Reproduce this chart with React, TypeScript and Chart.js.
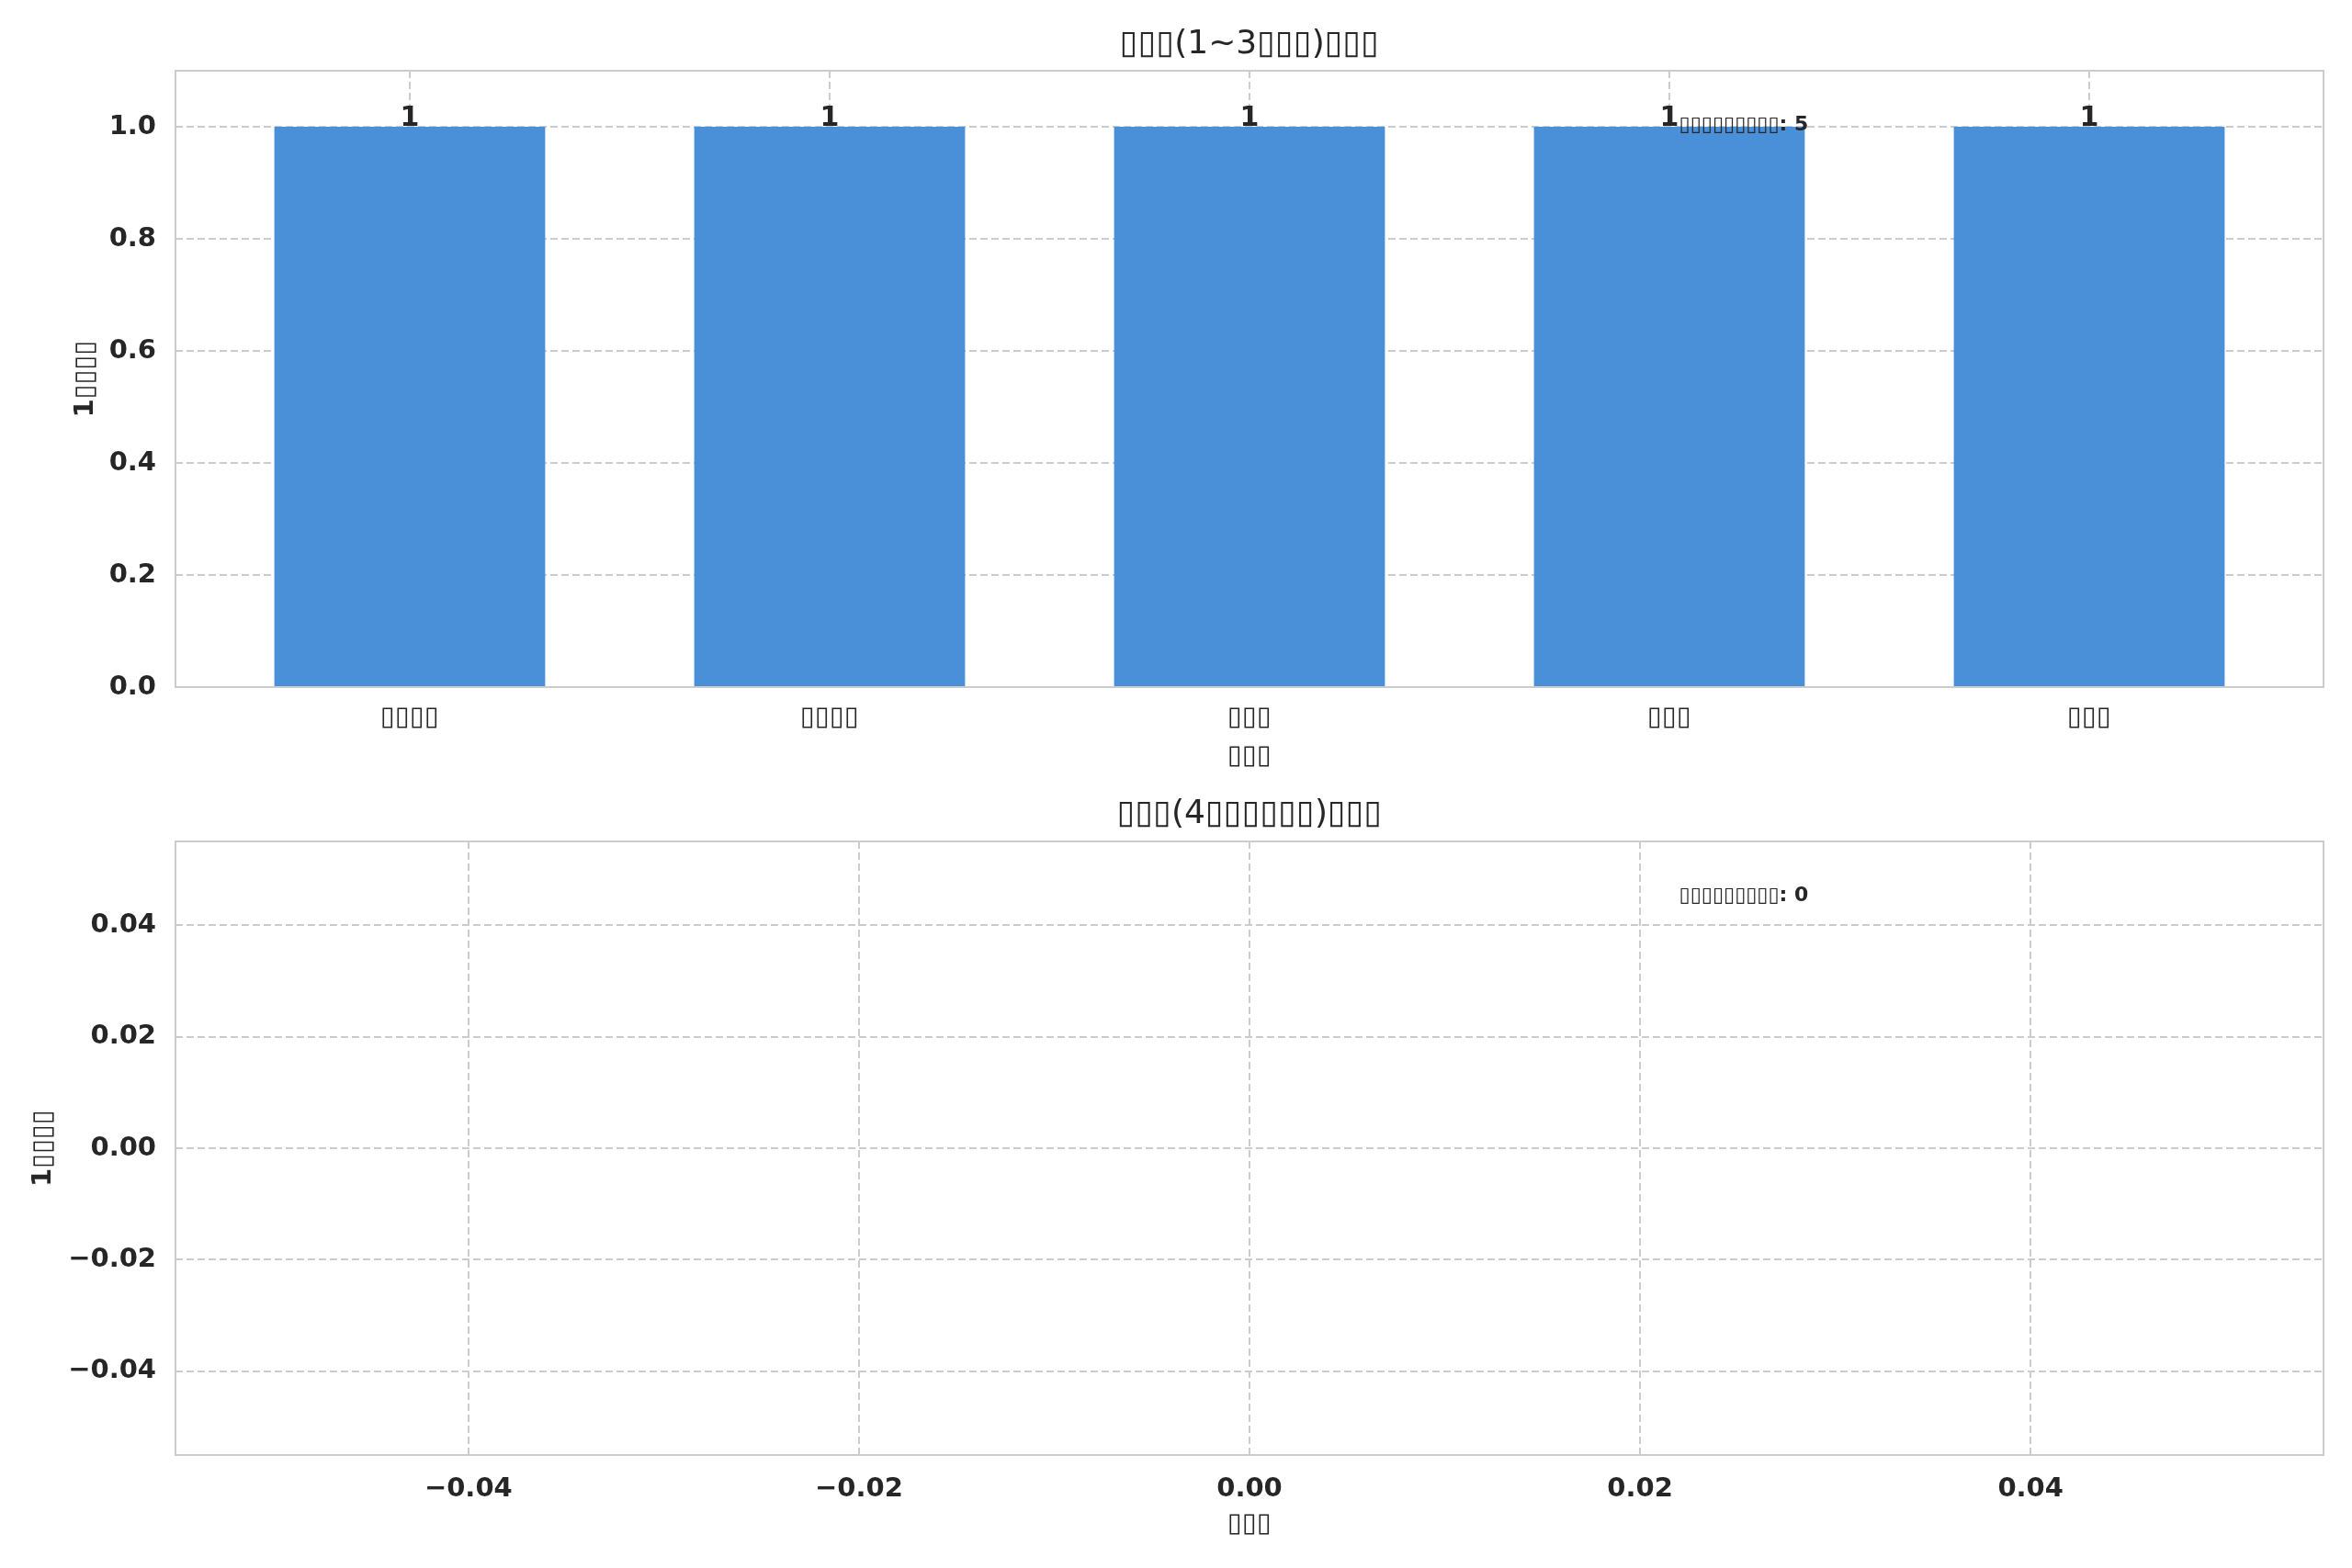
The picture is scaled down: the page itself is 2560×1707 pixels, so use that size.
import React, { useEffect, useRef } from "react";
import { Chart, registerables } from "chart.js";

Chart.register(...registerables);

Chart.defaults.font.family = "'DejaVu Sans', sans-serif";
Chart.defaults.color = "#262626";

// glyphs that were missing in the original render show up as boxes
const CATEGORIES = ["▯▯▯▯", "▯▯▯▯", "▯▯▯", "▯▯▯", "▯▯▯"];
const COUNTS = [1, 1, 1, 1, 1];
const TOP_Y_TICKS = [0, 0.2, 0.4, 0.6, 0.8, 1.0];
const BOTTOM_TICKS = [-0.04, -0.02, 0, 0.02, 0.04];
const EMPTY_COUNTS: number[] = [];

const TOP_TITLE = "▯▯▯(1~3▯▯▯)▯▯▯";
const BOTTOM_TITLE = "▯▯▯(4▯▯▯▯▯▯)▯▯▯";
const X_LABEL = "▯▯▯";
const Y_LABEL = "1▯▯▯▯";
const NOTE_LABEL = "▯▯▯▯▯▯▯▯▯";

const GRID = "#cccccc";
const BAR = "#4a90d9";

const fmt2 = (v: number) => (v < -1e-9 ? "\u2212" : "") + Math.abs(v).toFixed(2);

// axes frame on all four sides + title centred over the plot area
const framePlugin = {
  id: "frame",
  afterDraw(chart: any, _args: any, opts: any) {
    const { ctx, chartArea: a } = chart;
    ctx.save();
    ctx.strokeStyle = GRID;
    ctx.lineWidth = 2;
    ctx.strokeRect(a.left, a.top, a.right - a.left, a.bottom - a.top);
    ctx.font = "36px 'DejaVu Sans', sans-serif";
    ctx.fillStyle = "#262626";
    ctx.textAlign = "center";
    ctx.textBaseline = "middle";
    ctx.fillText(opts.title, (a.left + a.right) / 2, a.top - opts.titleGap);
    ctx.restore();
  },
};

const notePlugin = {
  id: "note",
  afterDraw(chart: any, _args: any, opts: any) {
    const { ctx, chartArea: a } = chart;
    ctx.save();
    ctx.font = "bold 22px 'DejaVu Sans', sans-serif";
    ctx.fillStyle = "#262626";
    ctx.textAlign = "left";
    ctx.textBaseline = "middle";
    ctx.fillText(opts.text, a.left + 0.7 * (a.right - a.left), a.top + 0.089 * (a.bottom - a.top));
    ctx.restore();
  },
};

const barLabelPlugin = {
  id: "barLabels",
  afterDatasetsDraw(chart: any) {
    const { ctx } = chart;
    const meta = chart.getDatasetMeta(0);
    if (!meta || !meta.data) return;
    ctx.save();
    ctx.font = "bold 30px 'DejaVu Sans', sans-serif";
    ctx.fillStyle = "#262626";
    ctx.textAlign = "center";
    ctx.textBaseline = "alphabetic";
    meta.data.forEach((bar: any, i: number) => {
      const v = chart.data.datasets[0].data[i];
      ctx.fillText(String(v.y), bar.x, bar.y - 1);
    });
    ctx.restore();
  },
};

const gridOpts = {
  color: GRID,
  lineWidth: 2,
  drawTicks: false,
  offset: false,
};

type PanelProps = {
  top: boolean;
  height: number;
};

const Panel = ({ top, height }: PanelProps) => {
  const canvas = useRef<HTMLCanvasElement>(null);

  useEffect(() => {
    const ctx = canvas.current;
    if (!ctx) return;

    const data = top
      ? COUNTS.map((v, i) => ({ x: i, y: v }))
      : EMPTY_COUNTS.map((v, i) => ({ x: i, y: v }));

    const chart = new Chart(ctx, {
      type: "bar",
      data: {
        datasets: [
          {
            data: data as any,
            backgroundColor: BAR,
            borderWidth: 0,
            barPercentage: 0.645,
            categoryPercentage: 1,
          },
        ],
      },
      options: {
        responsive: false,
        animation: false,
        devicePixelRatio: 1,
        layout: { padding: { left: 0, right: 31, top: top ? 77 : 63, bottom: 0 } },
        plugins: {
          legend: { display: false },
          tooltip: { enabled: false },
          title: { display: false },
          frame: { title: top ? TOP_TITLE : BOTTOM_TITLE, titleGap: top ? 28 : 29 },
          note: { text: `${NOTE_LABEL}: ${top ? COUNTS.length : EMPTY_COUNTS.length}` },
        } as any,
        scales: {
          x: {
            type: "linear",
            offset: false,
            min: top ? -0.558 : -0.055,
            max: top ? 4.558 : 0.055,
            afterBuildTicks: (scale: any) => {
              scale.ticks = (top ? CATEGORIES.map((_, i) => i) : BOTTOM_TICKS).map((v) => ({ value: v }));
            },
            afterFit: (scale: any) => {
              scale.height = top ? 105 : 123;
            },
            ticks: {
              autoSkip: false,
              maxRotation: 0,
              padding: top ? 16 : 20,
              font: { size: 29, weight: top ? "normal" : "bold" },
              color: "#262626",
              callback: (value: any) => (top ? CATEGORIES[Math.round(value)] : fmt2(value)),
            },
            grid: { ...gridOpts, borderDash: [8, 4] } as any,
            border: { display: false, dash: [8, 4] },
            title: {
              display: true,
              text: X_LABEL,
              color: "#262626",
              font: { size: 29, weight: "bold" },
              padding: { top: 0, bottom: top ? 12.6 : 30.6 },
            },
          },
          y: {
            type: "linear",
            min: top ? 0 : -0.055,
            max: top ? 1.1 : 0.055,
            afterBuildTicks: (scale: any) => {
              scale.ticks = (top ? TOP_Y_TICKS : BOTTOM_TICKS).map((v) => ({ value: v }));
            },
            afterFit: (scale: any) => {
              scale.width = 191;
            },
            ticks: {
              padding: 21,
              font: { size: 29, weight: "bold" },
              color: "#262626",
              callback: (value: any) => (top ? Number(value).toFixed(1) : fmt2(value)),
            },
            grid: gridOpts,
            border: { display: false, dash: [8, 4] },
            title: {
              display: true,
              text: Y_LABEL,
              color: "#262626",
              font: { size: 29, weight: "bold" },
              padding: { top: top ? 75.6 : 29.6, bottom: 0 },
            },
          },
        },
      },
      plugins: [framePlugin, notePlugin, ...(top ? [barLabelPlugin] : [])],
    });

    return () => chart.destroy();
  }, [top]);

  return (
    <canvas
      ref={canvas}
      width={2560}
      height={height}
      style={{ display: "block", width: 2560, height }}
    ></canvas>
  );
};

export default function App() {
  return (
    <div
      style={{
        position: "absolute",
        left: 0,
        top: 0,
        width: 2560,
        height: 1707,
        background: "#ffffff",
      }}
    >
      <Panel top={true} height={853} />
      <Panel top={false} height={854} />
    </div>
  );
}
